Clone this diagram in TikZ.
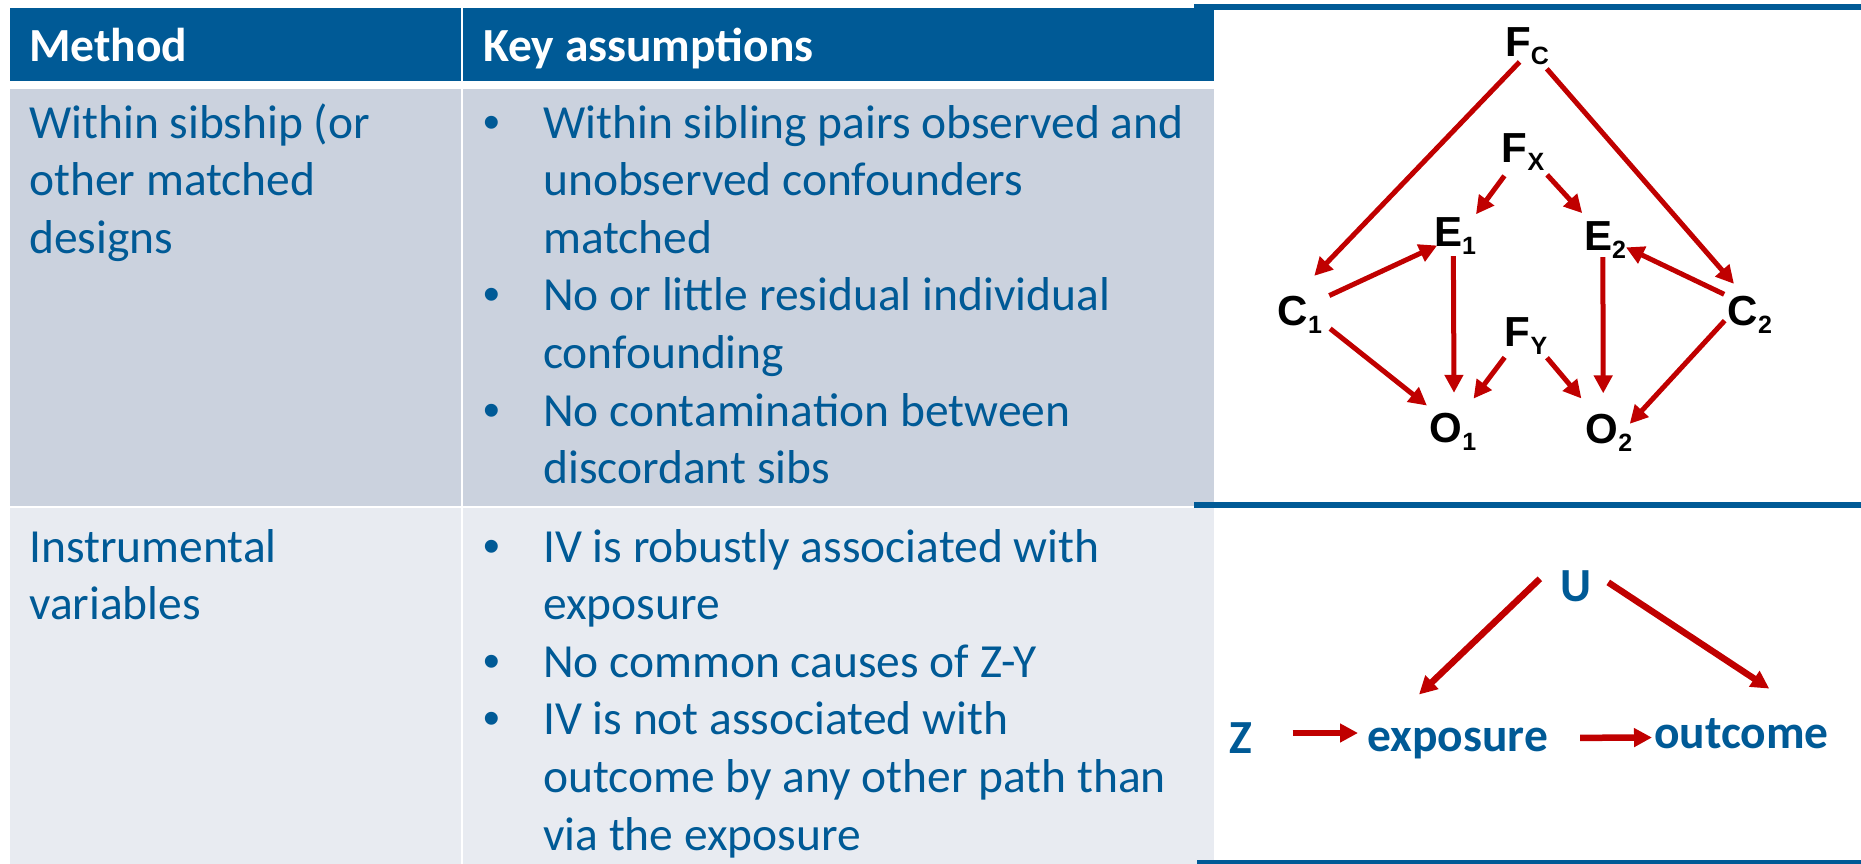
\documentclass[tikz,border=0pt]{standalone}
\usepackage{fontspec}
\setmainfont{Carlito}
\newfontfamily\arialfont{Liberation Sans}
\usetikzlibrary{arrows.meta}

\definecolor{tblue}{RGB}{0,90,150}
\definecolor{rowa}{RGB}{203,210,222}
\definecolor{rowb}{RGB}{232,235,241}
\definecolor{dagred}{RGB}{192,0,0}

\newcommand{\bul}{\makebox[60pt][l]{\arialfont\textbullet}}
\newcommand{\bind}{\hspace*{60pt}}
\newcommand{\lab}[2]{#1\raisebox{-8pt}{\fontsize{25}{25}\selectfont #2}}

\begin{document}
\begin{tikzpicture}[x=1pt,y=-1pt,
  cell/.style={anchor=base west,align=left,inner sep=0pt,text=tblue,font=\fontsize{47.5}{57.6}\selectfont},
  head/.style={anchor=base west,inner sep=0pt,text=white,font=\fontsize{47.5}{57.6}\selectfont\bfseries},
  var/.style={circle,minimum size=60pt,inner sep=0pt,font=\fontsize{42}{42}\selectfont\arialfont\bfseries},
  ivar/.style={inner sep=0pt,text height=30pt,text depth=9pt,text=tblue,font=\fontsize{47.5}{47.5}\selectfont\bfseries},
  arr/.style={draw=dagred,line width=5pt,-{Triangle[length=18pt,width=18pt]}},
  ivarr/.style={arr,line width=6.5pt}]
\useasboundingbox (0,0) rectangle (1861,864);

% table cells
\fill[tblue] (10,8) rectangle (461,81);
\fill[tblue] (463,8) rectangle (1214,81);
\fill[rowa] (10,89) rectangle (461,506);
\fill[rowa] (463,89) rectangle (1214,506);
\fill[rowb] (10,508) rectangle (461,864);
\fill[rowb] (463,508) rectangle (1214,864);

% rules of the diagram column
\draw[tblue,line width=6.5pt] (1194,7) -- (1861,7);
\draw[tblue,line width=6.5pt] (1194,505) -- (1861,505);
\draw[tblue,line width=6.5pt] (1197,863) -- (1861,863);

% table text (placed at the baseline of the last line)
\node[head] (hmeth) at (29,62) {Method};
\node[head] (hkey) at (483,62) {Key assumptions};
\node[cell] (meth1) at (29,253.2) {Within sibship (or\\other matched\\designs};
\node[cell] (key1) at (483,483.6) {\bul Within sibling pairs observed and\\\bind unobserved confounders\\\bind matched\\\bul No or little residual individual\\\bind confounding\\\bul No contamination between\\\bind discordant sibs};
\node[cell] (meth2) at (29,619.6) {Instrumental\\variables};
\node[cell] (key2) at (483,850) {\bul IV is robustly associated with\\\bind exposure\\\bul No common causes of Z-Y\\\bul IV is not associated with\\\bind outcome by any other path than\\\bind via the exposure};

% sibling design
\node[var] (FC) at (1527,46) {\lab{F}{C}};
\node[var] (FX) at (1523,152) {\lab{F}{X}};
\node[var] (E1) at (1455,236) {\lab{E}{1}};
\node[var] (E2) at (1605,240) {\lab{E}{2}};
\node[var] (C1) at (1300,315) {\lab{C}{1}};
\node[var] (C2) at (1750,315) {\lab{C}{2}};
\node[var] (FY) at (1526,336) {\lab{F}{Y}};
\node[var] (O1) at (1453,432) {\lab{O}{1}};
\node[var] (O2) at (1609,433) {\lab{O}{2}};

\draw[arr,shorten <=-13pt,shorten >=13pt] (FC.237) -- (C1.80);
\draw[arr,shorten >=5pt] (FC.311) -- (C2.115);
\draw[arr] (FX.232) -- (E1.46);
\draw[arr,shorten <=3pt,shorten >=5pt] (FX.317) -- (E2.130);
\draw[arr,shorten <=5pt,shorten >=-10pt] (C1.35) -- (E1.207);
\draw[arr,shorten <=3pt,shorten >=-8pt] (C2.140) -- (E2.339);
\draw[arr,shorten <=-10pt,shorten >=9pt] (E1.267) -- (O1.88);
\draw[arr,shorten <=-13pt,shorten >=10pt] (E2.266) -- (O2.101);
\draw[arr,shorten <=3pt,shorten >=7pt] (C1.337) -- (O1.133);
\draw[arr,shorten >=9pt] (FY.225) -- (O1.60);
\draw[arr,shorten >=14pt] (FY.314) -- (O2.128);
\draw[arr,shorten <=-5pt,shorten >=-8pt] (C2.198) -- (O2.30);

% instrumental variable
\node[ivar,circle,minimum size=60pt,text depth=0pt] (U) at (1576,586) {U};
\node[ivar,anchor=base] (Z) at (1241,753) {Z};
\node[ivar,anchor=base west] (expo) at (1367,751) {exposure};
\node[ivar,anchor=base west] (outc) at (1654,748) {outcome};

\draw[ivarr,shorten <=40pt,shorten >=9pt] ([yshift=9.5pt]Z.east) -- ([yshift=7.5pt]expo.west);
\draw[ivarr,shorten <=32pt,shorten >=2pt] ([yshift=2.5pt]expo.east) -- (outc.west);
\draw[ivarr,shorten <=21pt,shorten >=38pt] (U.134) -- ([xshift=-66pt]expo.north);
\draw[ivarr,shorten <=3pt,shorten >=53pt] (U.10) -- ([xshift=72pt]outc.north);
\end{tikzpicture}
\end{document}
